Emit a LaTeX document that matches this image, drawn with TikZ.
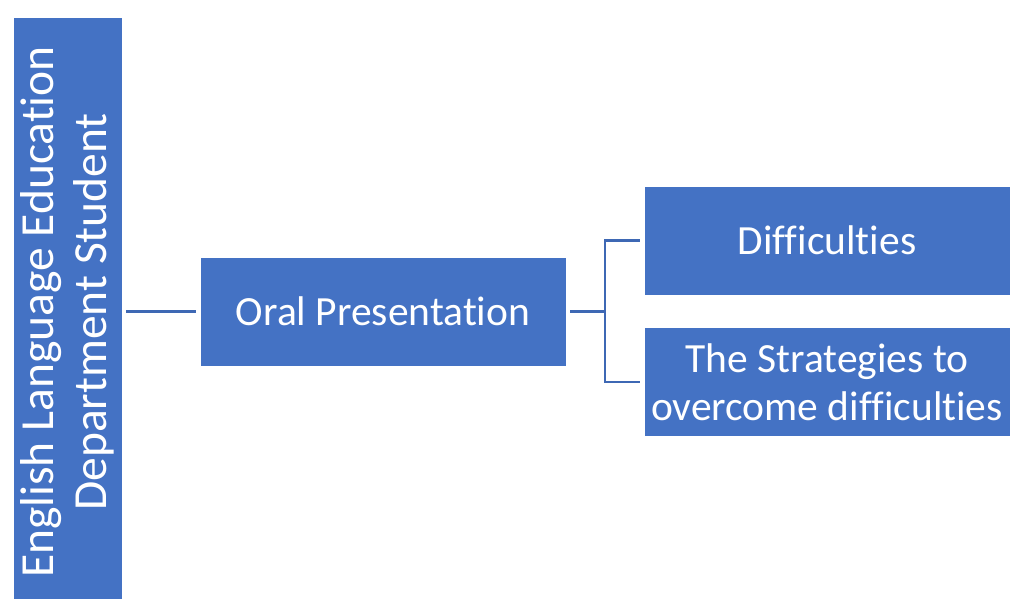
\documentclass[tikz,border=0pt]{standalone}
\usepackage{fontspec}
\setmainfont{Carlito}[Ligatures=NoCommon]
\definecolor{accent}{HTML}{4472C4}
\definecolor{linkblue}{HTML}{3E68B4}
\begin{document}
\begin{tikzpicture}[x=1pt,y=-1pt,
    box/.style={fill=accent, draw=white, line width=0.8pt, text=white, align=center,
        inner sep=0pt, font=\fontsize{41.5}{48}\selectfont},
    link/.style={draw=linkblue, line width=2.4pt}]
    \useasboundingbox (0,0) rectangle (1013,599);
    \begin{scope}
    \clip (0,0) rectangle (1013,599);
    \node[box, rotate=90, minimum width=590pt, minimum height=109pt, font=\fontsize{47.5}{53}\selectfont] (S) at (67.5,312) {English Language Education\\Department Student};
    \end{scope}
    \node[box, minimum width=366pt, minimum height=109pt] (O) at (383,311.5) {Oral Presentation};
    \node[box, minimum width=366pt, minimum height=109pt] (D) at (827,240.5) {Difficulties};
    \node[box, minimum width=366pt, minimum height=109pt] (T) at (827,382) {The Strategies to\\overcome difficulties};
    \coordinate (fork) at (605,311.5);
    \draw[link, shorten <=4pt, shorten >=4pt] (S.south |- O.west) to (O.west);
    \draw[link] ([xshift=4pt]O.east) to (fork);
    \draw[link] ([xshift=-4pt]D.west) -| (fork) |- ([xshift=-4pt]T.west);
\end{tikzpicture}
\end{document}
